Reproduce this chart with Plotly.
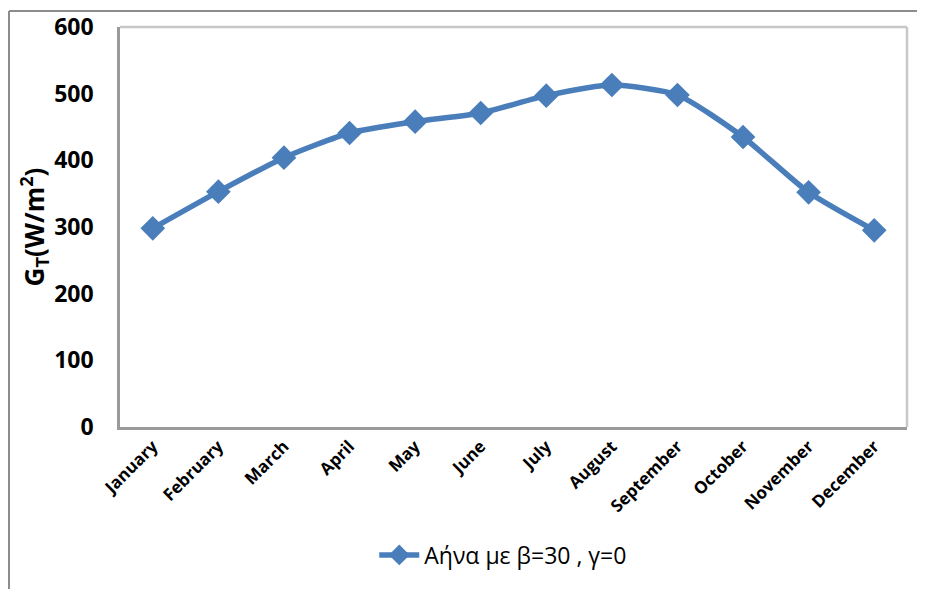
import plotly.graph_objects as go

# data
months = ["January", "February", "March", "April", "May", "June",
          "July", "August", "September", "October", "November", "December"]
gt_values = [298, 353, 404, 441, 458, 471, 497, 513, 498, 435, 352, 295]
series_name = "Αήνα με β=30 , γ=0"
y_ticks = [0, 100, 200, 300, 400, 500, 600]

# page has an 8px body margin, so the figure is drawn 8px in
OFF = 8
W, H = 925 - OFF, 589 - OFF
ML, MR, MT, MB = 120 - OFF, 18, 27 - OFF, 162
pw, ph = W - ML - MR, H - MT - MB

blue = "#4a7ebb"

fig = go.Figure()
fig.add_trace(go.Scatter(
    x=months, y=gt_values, name=series_name,
    mode="lines+markers",
    line=dict(color=blue, width=5.5, shape="spline", smoothing=0.6),
    marker=dict(symbol="diamond", size=19, color=blue),
))

# outer chart frame (cropped at right/bottom in the reference)
fx0 = (9 - OFF - ML) / pw
fy1 = 1 + (MT - (11 - OFF)) / ph
frame = dict(type="line", xref="paper", yref="paper",
             line=dict(color="#8c8c8c", width=2))
fig.add_shape(**frame, x0=fx0, x1=fx0, y0=fy1, y1=-MB / ph - 0.02)
fig.add_shape(**frame, x0=fx0, x1=(W - ML) / pw + 0.02, y0=fy1, y1=fy1)

# plot area box: light top/right, darker axis lines
light = dict(type="line", xref="paper", yref="paper",
             line=dict(color="#c8c8c8", width=2.5))
fig.add_shape(**light, x0=0, x1=1, y0=1, y1=1)
fig.add_shape(**light, x0=1, x1=1, y0=0, y1=1)

fig.update_layout(
    width=W, height=H,
    paper_bgcolor="white", plot_bgcolor="white",
    margin=dict(l=ML, r=MR, t=MT, b=MB, autoexpand=False),
    font=dict(family="Open Sans, Lato, sans-serif", color="black"),
    showlegend=True,
    legend=dict(orientation="h", x=0.487, xanchor="center", y=-0.32, yanchor="middle",
                font=dict(size=23, family="Open Sans, sans-serif"), itemwidth=40),
)
fig.update_xaxes(
    type="category", showgrid=False, showline=True, linecolor="#9a9a9a", linewidth=2.5,
    tickangle=-45, ticks="", tickfont=dict(size=17, family="Open Sans", weight="bold"),
    range=[-0.5, 11.5], automargin=False,
)
fig.update_yaxes(
    range=[0, 600], tickvals=y_ticks, showgrid=False, zeroline=False,
    showline=True, linecolor="#9a9a9a", linewidth=2.5, ticks="",
    ticklabelstandoff=19, automargin=False,
    tickfont=dict(size=23, family="Open Sans", weight="bold"),
    title=dict(text="G<sub>T</sub>(W/m<sup>2</sup>)", standoff=0,
               font=dict(size=26, family="Open Sans", weight="bold")),
)

fig.write_html("out.html")
